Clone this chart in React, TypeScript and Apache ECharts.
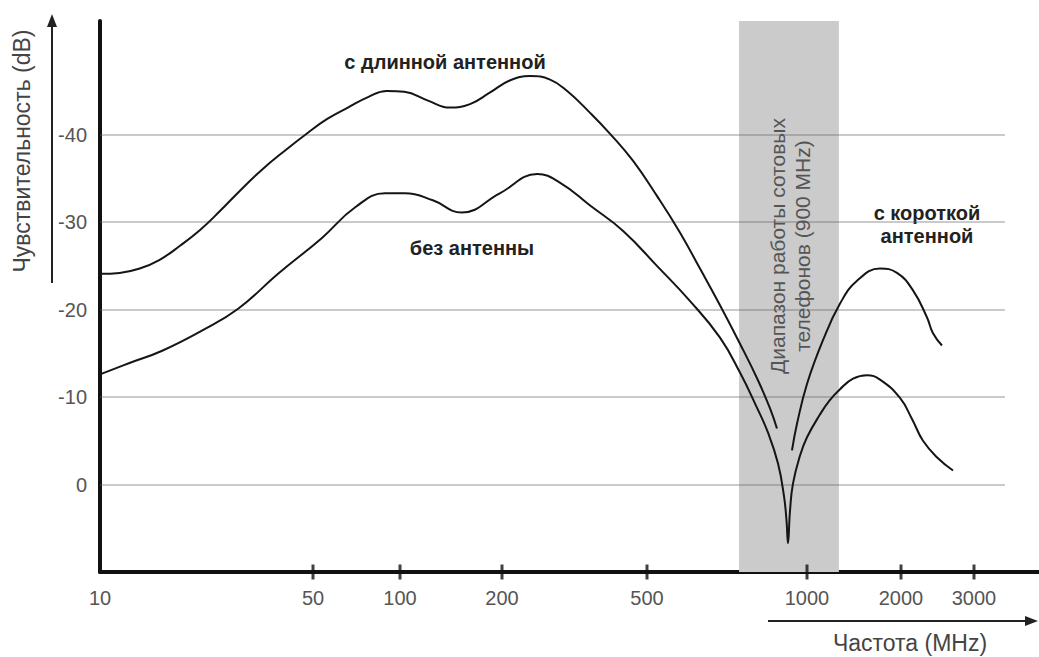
import React, { useEffect, useRef } from "react";
import * as echarts from "echarts";

// Axis scale breakpoints (hand-drawn, non-uniform log scale)
const tickFreqs = [10, 50, 100, 200, 500, 1000, 2000, 3000];
const tickPos = [0, 213, 300, 402, 547, 707, 801, 874];
const yTicks = [-40, -30, -20, -10, 0];

// с длинной антенной
const longFreq = [10, 11.6, 13.5, 15.7, 18.3, 21.3, 24.8, 28.8, 34, 40.5, 48, 56, 66, 77.5, 90, 103, 121, 140, 161, 184, 210, 239, 271, 302, 349, 396, 458, 522, 577, 629, 686, 748, 809, 852, 878];
const longDb = [-24.1, -24.2, -24.7, -25.7, -27.3, -29.1, -31.3, -33.6, -36.0, -38.2, -40.2, -41.8, -43.1, -44.3, -45.0, -44.9, -43.9, -43.1, -43.5, -44.8, -46.2, -46.7, -46.3, -45.0, -42.5, -40.1, -37.0, -33.0, -28.8, -24.7, -20.5, -16.1, -11.9, -8.7, -6.4];

// без антенны
const noFreq = [10, 12.5, 16, 21.6, 28.4, 38.4, 53.7, 70, 88.7, 103.5, 125, 152, 197, 250, 289, 349, 430, 522, 602, 686, 748, 805, 845, 882, 905, 915, 921, 929, 941, 970, 1000, 1100, 1180, 1276, 1404, 1556, 1713, 1985, 2126, 2260, 2456, 2670];
const noDb = [-12.6, -13.9, -15.3, -17.6, -20.1, -24.1, -28.2, -31.7, -33.3, -33.3, -32.5, -31.1, -33.3, -35.5, -34.5, -31.9, -29.0, -25.0, -21.0, -16.8, -12.8, -8.8, -5.9, -2.4, 1.3, 4.1, 6.7, 3.0, -0.1, -3.3, -5.4, -8.0, -9.6, -10.9, -12.1, -12.5, -12.0, -9.9, -7.5, -5.0, -3.0, -1.6];

// с короткой антенной
const shortFreq = [937, 958, 1000, 1125, 1276, 1446, 1713, 1942, 2138, 2311, 2389, 2511];
const shortDb = [-3.9, -7.0, -11.5, -16.5, -20.7, -23.3, -24.7, -24.2, -22.2, -19.1, -17.3, -15.9];

// Диапазон работы сотовых телефонов
const bandFreq = [745, 1265];

function f2x(f: number): number {
  let i = 0;
  while (i < tickFreqs.length - 2 && f > tickFreqs[i + 1]) i++;
  const f0 = tickFreqs[i];
  const f1 = tickFreqs[i + 1];
  return tickPos[i] + ((tickPos[i + 1] - tickPos[i]) * Math.log(f / f0)) / Math.log(f1 / f0);
}

const FONT = "'Liberation Sans', Arial, Helvetica, sans-serif";

export default function App() {
  const ref = useRef<HTMLDivElement>(null);
  useEffect(() => {
    if (!ref.current) return;
    const chart = echarts.init(ref.current, undefined, { renderer: "svg" });
    const xTickVals = tickFreqs.map(f2x);
    const toPairs = (fs: number[], ds: number[]) => fs.map((f, i) => [f2x(f), ds[i]]);
    const curveStyle = { color: "#151515", width: 2 };
    const option: any = {
      animation: false,
      grid: { left: 100, right: 0, top: 21, bottom: 85 },
      xAxis: {
        type: "value",
        min: 0,
        max: 939,
        position: "bottom",
        axisLine: { show: true, onZero: false, lineStyle: { color: "#111", width: 4 } },
        axisTick: { show: false },
        axisLabel: {
          customValues: xTickVals,
          formatter: (v: number) => {
            const idx = xTickVals.findIndex((p) => Math.abs(p - v) < 0.5);
            return idx >= 0 ? String(tickFreqs[idx]) : "";
          },
          fontSize: 20,
          color: "#555",
          margin: 16,
          fontFamily: FONT,
        },
        splitLine: { show: false },
      },
      yAxis: {
        type: "value",
        inverse: true,
        min: -53,
        max: 10,
        axisLine: { show: true, onZero: false, lineStyle: { color: "#111", width: 4 } },
        axisTick: { show: false },
        axisLabel: { customValues: yTicks, fontSize: 20, color: "#555", margin: 13, fontFamily: FONT },
        splitLine: { show: false },
      },
      series: [
        {
          type: "line",
          data: [],
          z: 1,
          silent: true,
          markArea: {
            silent: true,
            itemStyle: { color: "#cbcbcb" },
            data: [[{ xAxis: f2x(bandFreq[0]) }, { xAxis: f2x(bandFreq[1]) }]],
          },
        },
        {
          type: "line",
          data: [],
          z: 2,
          silent: true,
          markLine: {
            silent: true,
            symbol: ["none", "none"],
            label: { show: false },
            lineStyle: { color: "rgba(100,100,100,0.45)", width: 1.5, type: "solid" },
            data: yTicks.map((v) => [
              { xAxis: 0, yAxis: v },
              { xAxis: 905, yAxis: v },
            ]),
          },
        },
        {
          name: "ticks",
          type: "scatter",
          silent: true,
          clip: false,
          z: 6,
          symbol: "rect",
          symbolSize: [3, 15],
          itemStyle: { color: "#111" },
          data: xTickVals.slice(1).map((x) => [x, 10]),
        },
        {
          name: "с длинной антенной",
          type: "line",
          z: 5,
          smooth: 0.45,
          showSymbol: false,
          lineStyle: curveStyle,
          data: toPairs(longFreq, longDb),
        },
        {
          name: "без антенны",
          type: "line",
          z: 5,
          smooth: 0.45,
          showSymbol: false,
          lineStyle: curveStyle,
          data: toPairs(noFreq, noDb),
        },
        {
          name: "с короткой антенной",
          type: "line",
          z: 5,
          smooth: 0.45,
          showSymbol: false,
          lineStyle: curveStyle,
          data: toPairs(shortFreq, shortDb),
        },
      ],
      graphic: [
        {
          type: "text",
          x: 22,
          y: 151,
          rotation: Math.PI / 2,
          style: { text: "Чувствительность (dB)", fontSize: 23, fill: "#444", align: "center", verticalAlign: "middle", fontFamily: FONT },
        },
        { type: "line", shape: { x1: 52, y1: 283, x2: 52, y2: 24 }, style: { stroke: "#222", lineWidth: 2 } },
        { type: "polygon", shape: { points: [[52, 14], [47, 27], [57, 27]] }, style: { fill: "#222" } },
        { type: "line", shape: { x1: 768, y1: 621, x2: 1026, y2: 621 }, style: { stroke: "#222", lineWidth: 2 } },
        { type: "polygon", shape: { points: [[1038, 621], [1025, 616], [1025, 626]] }, style: { fill: "#222" } },
        {
          type: "text",
          x: 910,
          y: 643,
          style: { text: "Частота (MHz)", fontSize: 23, fill: "#444", align: "center", verticalAlign: "middle", fontFamily: FONT },
        },
        {
          type: "text",
          x: 445,
          y: 62,
          style: { text: "с длинной антенной", fontSize: 20, fontWeight: "bold", fill: "#222", align: "center", verticalAlign: "middle", fontFamily: FONT },
        },
        {
          type: "text",
          x: 472,
          y: 248,
          style: { text: "без антенны", fontSize: 20, fontWeight: "bold", fill: "#222", align: "center", verticalAlign: "middle", fontFamily: FONT },
        },
        {
          type: "text",
          x: 927,
          y: 224,
          style: { text: "с короткой\nантенной", fontSize: 20, lineHeight: 23, fontWeight: "bold", fill: "#222", align: "center", verticalAlign: "middle", fontFamily: FONT },
        },
        {
          type: "text",
          x: 790,
          y: 246,
          rotation: Math.PI / 2,
          z: 10,
          style: { text: "Диапазон работы сотовых\nтелефонов (900 MHz)", fontSize: 21, lineHeight: 25, fill: "#555", align: "center", verticalAlign: "middle", fontFamily: FONT },
        },
      ],
    };
    chart.setOption(option);
    return () => chart.dispose();
  }, []);
  return (
    <div
      ref={ref}
      style={{ position: "absolute", left: 0, top: 0, width: 1039, height: 657, background: "#fff" }}
    />
  );
}
